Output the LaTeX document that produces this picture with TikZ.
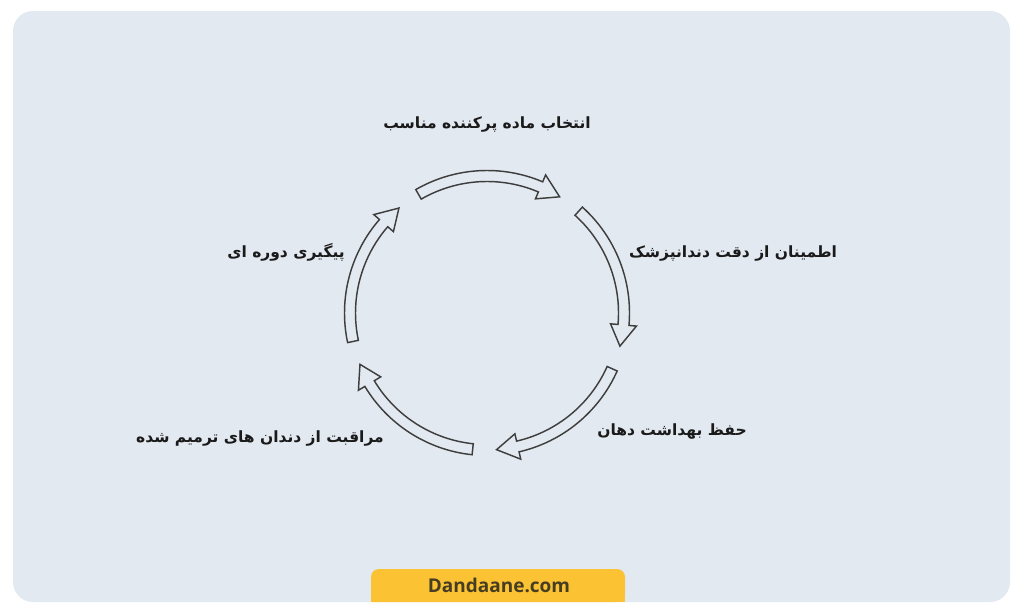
\documentclass[tikz,border=0pt]{standalone}
\usepackage{fontspec}
\setmainfont{Liberation Sans}
\newfontfamily\fa[Script=Arabic]{DejaVu Sans}
\newfontfamily\brand{Open Sans}
\TeXXeTstate=1
\definecolor{panel}{HTML}{E3E9F1}
\definecolor{tab}{HTML}{FBC334}
\definecolor{brandtxt}{HTML}{463D22}
\definecolor{arrowcol}{HTML}{3E3E3E}
\definecolor{txt}{HTML}{1A1A1A}
\tikzset{
  arrowline/.style={draw=arrowcol, line width=1.45pt, line join=miter, fill=panel},
  label/.style={font=\fa\bfseries\fontsize{15.5pt}{18pt}\selectfont, text=txt, inner sep=0pt},
}
\begin{document}
\begin{tikzpicture}[x=1pt,y=1pt]
\useasboundingbox (0,0) rectangle (1024,614);
\fill[white] (0,0) rectangle (1024,614);
\fill[panel, rounded corners=20pt] (13,12) rectangle (1010,603);
% brand tab
\fill[tab, rounded corners=8pt] (371,12) -- (371,45) -- (625,45) -- (625,12) [sharp corners] -- cycle;
\fill[tab] (371,12) rectangle (625,25);
\node[font=\brand\bfseries\fontsize{19pt}{22pt}\selectfont, text=brandtxt, inner sep=0pt] (brand) at (499,29) {Dandaane.com};
% arrows
\begin{scope}[shift={(487pt,301pt)}]
\foreach \s in {120,48,-24,-96,-168} {
  \pgfmathsetmacro\e{\s-62}
  \pgfmathsetmacro\b{\s-53}
  \draw[arrowline] (\s:142.5pt) arc[start angle=\s, end angle=\b, radius=142.5pt]
    -- (\b:150pt) -- (\e:137pt) -- (\b:124pt) -- (\b:131.5pt)
    arc[start angle=\b, end angle=\s, radius=131.5pt] -- cycle;
}
\end{scope}
% labels
\node[label] (l1) at (487,489) {\beginR انتخاب ماده پرکننده مناسب\endR};
\node[label] (l2) at (733,360) {\beginR اطمینان از دقت دندانپزشک\endR};
\node[label] (l3) at (672,182) {\beginR حفظ بهداشت دهان\endR};
\node[label] (l4) at (260,176) {\beginR مراقبت از دندان های ترمیم شده\endR};
\node[label] (l5) at (286,362) {\beginR پیگیری دوره ای\endR};
\end{tikzpicture}
\end{document}
